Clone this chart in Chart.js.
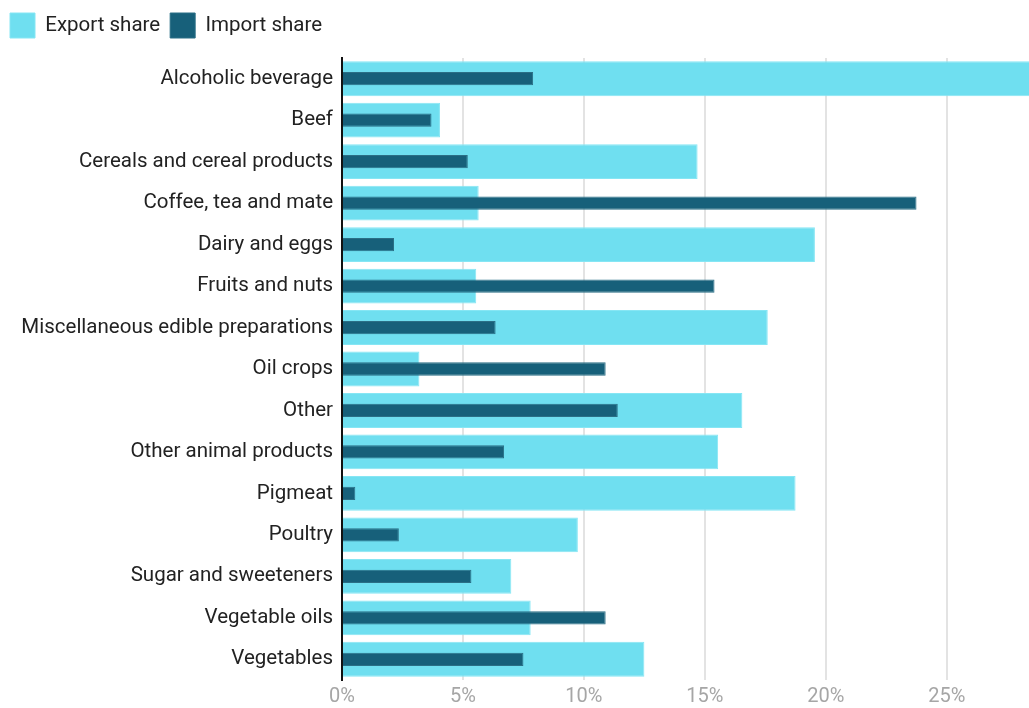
<!DOCTYPE html>
<html>
<head>
<meta charset="utf-8">
<script src="https://cdn.jsdelivr.net/npm/chart.js@4"></script>
<style>
  html, body { margin: 0; padding: 0; background: #fff; }
  #wrap { width: 1029px; height: 708px; position: relative; }
</style>
</head>
<body>
<div id="wrap"><canvas id="tradeChart"></canvas></div>
<script>
// Food trade shares by product group (%)
const categories = [
    'Alcoholic beverage', 'Beef', 'Cereals and cereal products', 'Coffee, tea and mate',
    'Dairy and eggs', 'Fruits and nuts', 'Miscellaneous edible preparations', 'Oil crops',
    'Other', 'Other animal products', 'Pigmeat', 'Poultry', 'Sugar and sweeteners',
    'Vegetable oils', 'Vegetables'
];
const exportShare = [29.5, 4.05, 14.7, 5.65, 19.55, 5.55, 17.6, 3.2, 16.55, 15.55, 18.75, 9.75, 7.0, 7.8, 12.5];
const importShare = [7.9, 3.7, 5.2, 23.75, 2.15, 15.4, 6.35, 10.9, 11.4, 6.7, 0.55, 2.35, 5.35, 10.9, 7.5];
const xTicks = [0, 5, 10, 15, 20, 25];

const textColor = '#222';
const tickColor = '#a6a6a6';
const gridColor = '#e3e3e3';

// push the plot down a bit below the legend
const legendSpacer = {
    id: 'legendSpacer',
    beforeInit(chart) {
        const origFit = chart.legend.fit;
        chart.legend.fit = function () {
            origFit.bind(chart.legend)();
            this.height = 55;
        };
    }
};

new Chart(document.getElementById('tradeChart'), {
    type: 'bar',
    data: {
        labels: categories,
        datasets: [
            {
                label: 'Export share',
                data: exportShare,
                backgroundColor: '#6fdff0',
                borderColor: '#86e6f4',
                borderWidth: 1,
                barPercentage: 0.84,
                categoryPercentage: 1,
                grouped: false,
                order: 1
            },
            {
                label: 'Import share',
                data: importShare,
                backgroundColor: '#17607a',
                borderColor: '#2b6f86',
                borderWidth: 1,
                barPercentage: 0.32,
                categoryPercentage: 1,
                grouped: false,
                order: 0
            }
        ]
    },
    options: {
        indexAxis: 'y',
        responsive: true,
        maintainAspectRatio: false,
        animation: false,
        layout: { padding: { top: 3, left: 0, right: 0, bottom: 0 } },
        plugins: {
            legend: {
                position: 'top',
                align: 'start',
                labels: {
                    color: textColor,
                    font: { family: 'Roboto', size: 20.5 },
                    boxWidth: 25,
                    boxHeight: 25,
                    padding: 10,
                    sort: (a, b) => a.datasetIndex - b.datasetIndex
                }
            },
            tooltip: { enabled: false }
        },
        scales: {
            x: {
                min: 0,
                max: 28.4,
                afterBuildTicks: axis => { axis.ticks = xTicks.map(v => ({ value: v })); },
                afterFit: axis => { axis.height = 28; },
                grid: { color: gridColor, lineWidth: 2, drawTicks: false },
                border: { display: false },
                ticks: {
                    color: tickColor,
                    font: { family: 'Roboto', size: 20 },
                    padding: 5,
                    callback: v => v + '%'
                }
            },
            y: {
                afterFit: axis => { axis.width = 342; },
                grid: { display: false, drawTicks: false },
                border: { display: true, color: '#111', width: 2 },
                ticks: {
                    color: textColor,
                    font: { family: 'Roboto', size: 20.5 },
                    padding: 9
                }
            }
        }
    },
    plugins: [legendSpacer]
});
</script>
</body>
</html>
